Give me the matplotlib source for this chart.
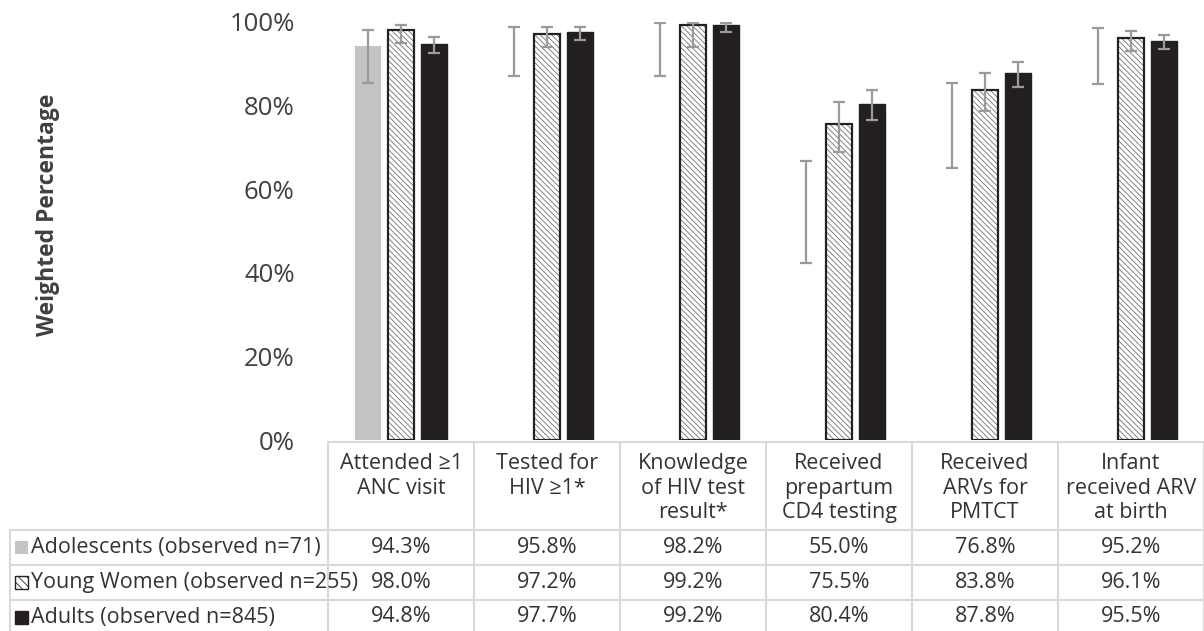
import numpy as np
import matplotlib.pyplot as plt
import matplotlib.transforms as mtransforms
from matplotlib.patches import Rectangle

plt.rcParams['font.family'] = ['Open Sans', 'DejaVu Sans']
plt.rcParams['hatch.linewidth'] = 0.6

categories = ['Attended \u22651\nANC visit', 'Tested for\nHIV \u22651*',
              'Knowledge\nof HIV test\nresult*', 'Received\nprepartum\nCD4 testing',
              'Received\nARVs for\nPMTCT', 'Infant\nreceived ARV\nat birth']
groups = ['Adolescents (observed n=71)', 'Young Women (observed n=255)',
          'Adults (observed n=845)']

adolescents = [94.3, 95.8, 98.2, 55.0, 76.8, 95.2]
young_women = [98.0, 97.2, 99.2, 75.5, 83.8, 96.1]
adults = [94.8, 97.7, 99.2, 80.4, 87.8, 95.5]

# confidence intervals
adol_lo = [85.4, 87.1, 87.1, 42.3, 65.1, 85.2]
adol_hi = [98.1, 98.8, 99.8, 66.7, 85.4, 98.6]
yw_lo = [95.0, 94.0, 94.0, 68.9, 78.7, 93.1]
yw_hi = [99.3, 98.8, 99.8, 80.9, 87.8, 97.8]
ad_lo = [92.6, 95.7, 97.6, 76.6, 84.4, 93.5]
ad_hi = [96.4, 98.8, 99.8, 83.7, 90.4, 96.9]

# only the first adolescent bar is filled in the original
adol_colors = ['#c3c4c6', 'white', 'white', 'white', 'white', 'white']

fig = plt.figure(figsize=(12.04, 6.31), dpi=100)
ax = fig.add_axes([328 / 1204, (631 - 440) / 631, 876 / 1204, 418 / 631])

x = np.arange(len(categories))
w = 0.18
off = 0.226
ecol = '#9a9a9a'
ekw = dict(ecolor=ecol, elinewidth=1.6, capsize=4.5, capthick=1.6, zorder=4)

def yerr(vals, lo, hi):
    v = np.array(vals)
    return [v - np.array(lo), np.array(hi) - v]

ax.bar(x - off, adolescents, w, color=adol_colors, edgecolor='none', zorder=2)
ax.errorbar(x - off, adolescents, yerr=yerr(adolescents, adol_lo, adol_hi), fmt='none', **ekw)
# hatched fill, then a dark outline on top
ax.bar(x, young_women, w, color='white', edgecolor='#707070', hatch='\\\\\\\\\\\\',
       linewidth=0, zorder=2)
ax.bar(x, young_women, w, fill=False, edgecolor='#222222', linewidth=1.6, zorder=3)
ax.errorbar(x, young_women, yerr=yerr(young_women, yw_lo, yw_hi), fmt='none', **ekw)
ax.bar(x + off, adults, w, color='#231f20', edgecolor='#231f20', zorder=2)
ax.errorbar(x + off, adults, yerr=yerr(adults, ad_lo, ad_hi), fmt='none', **ekw)

ax.set_xlim(-0.5, len(categories) - 0.5)
ax.set_ylim(0, 100)
ax.set_yticks(range(0, 101, 20))
ax.set_yticklabels(['%d%%' % v for v in range(0, 101, 20)], fontsize=18.5, color='#404040')
ax.tick_params(axis='y', length=0, pad=24)
ax.set_xticks([])
for s in ax.spines.values():
    s.set_visible(False)

fig.text(0.04, 0.66, 'Weighted Percentage', rotation=90, ha='center', va='center',
         fontsize=16.5, fontweight='bold', color='#404040')

# data table below the axis
tr = mtransforms.blended_transform_factory(ax.transData, fig.transFigure)
def fy(py):
    return 1 - py / 631

lc = '#d9d9d9'
tc = '#333333'
hdr_top = 442
row_edges = [530, 565, 600, 634]
fs = 15.5

for i in range(len(categories) + 1):
    xe = i - 0.5
    fig.add_artist(plt.Line2D([xe, xe], [fy(hdr_top), fy(row_edges[-1])], transform=tr,
                              color=lc, lw=1.5))
fig.add_artist(plt.Line2D([-0.5, 5.5], [fy(hdr_top), fy(hdr_top)], transform=tr, color=lc, lw=1.5))
for ye in row_edges:
    fig.add_artist(plt.Line2D([10 / 1204, 1.0], [fy(ye), fy(ye)], transform=fig.transFigure,
                              color=lc, lw=1.5))
fig.add_artist(plt.Line2D([10 / 1204, 10 / 1204], [fy(row_edges[0]), fy(row_edges[-1])],
                          transform=fig.transFigure, color=lc, lw=1.5))

for i, c in enumerate(categories):
    fig.text(i, fy(453), c, transform=tr, ha='center', va='top', fontsize=fs,
             color=tc, linespacing=1.22)

rows = [adolescents, young_women, adults]
for r, (g, vals) in enumerate(zip(groups, rows)):
    yc = (row_edges[r] + row_edges[r + 1]) / 2
    fig.text(31 / 1204, fy(yc), g, ha='left', va='center', fontsize=fs, color=tc)
    for i, v in enumerate(vals):
        fig.text(i, fy(yc), '%.1f%%' % v, transform=tr, ha='center', va='center',
                 fontsize=fs, color=tc)

# legend keys in the row labels
keys = [dict(facecolor='#c3c4c6', edgecolor='none'),
        dict(facecolor='white', edgecolor='#222222', hatch='\\\\\\\\', lw=1),
        dict(facecolor='#231f20', edgecolor='#231f20')]
for r, k in enumerate(keys):
    yc = (row_edges[r] + row_edges[r + 1]) / 2
    fig.add_artist(Rectangle((15 / 1204, fy(yc + 6.5)), 13 / 1204, 13 / 631,
                             transform=fig.transFigure, **k))

fig.savefig('out.png', dpi=100)
